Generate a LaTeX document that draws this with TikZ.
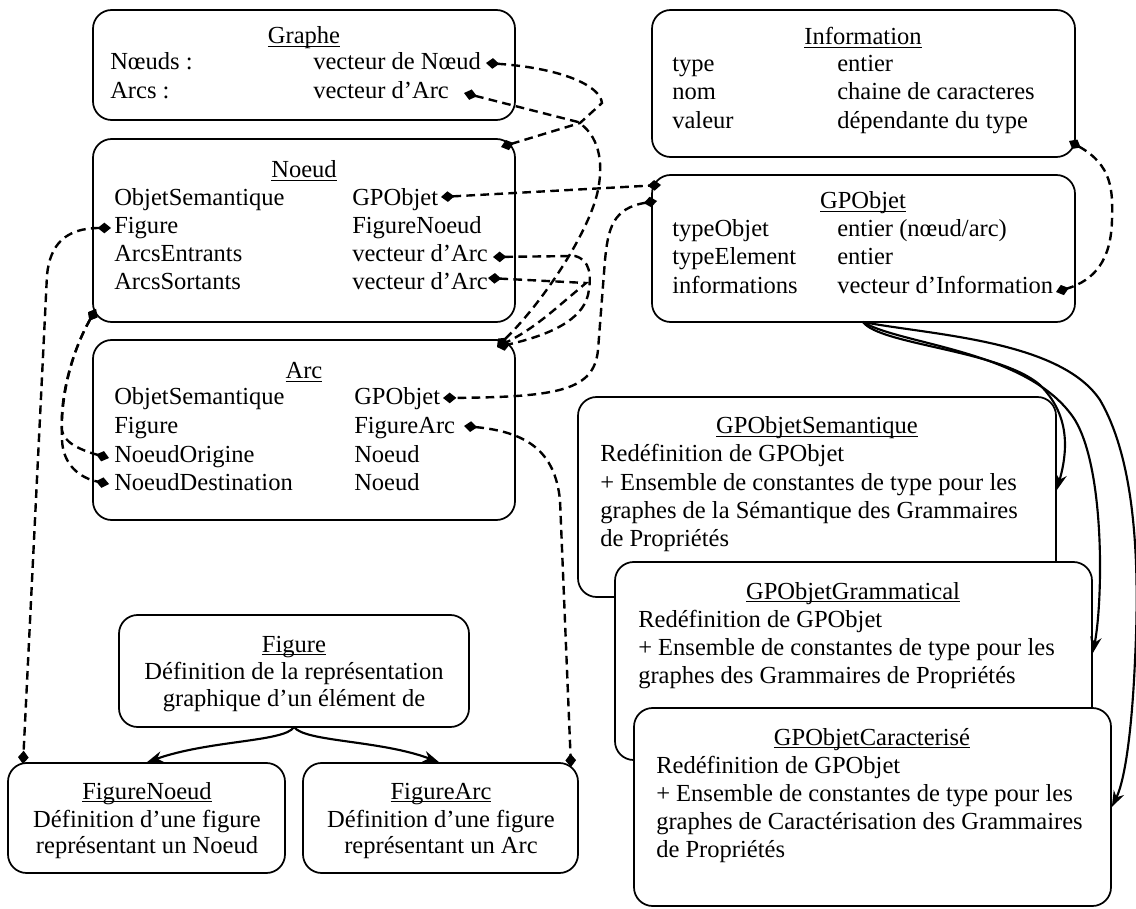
\documentclass[tikz,border=0pt]{standalone}
\usepackage{fontspec}
\setmainfont{Liberation Serif}
\usetikzlibrary{arrows.meta,fit}
\newcommand\ttlu[1]{\underline{\smash{#1}}}
\begin{document}
\begin{tikzpicture}[x=0.75pt,y=-0.75pt,
  every node/.style={font=\fontsize{18.4}{21}\selectfont, inner sep=0pt},
  box/.style={draw, line width=1.3pt, rounded corners=14pt, fill=white, inner sep=0pt},
  txt/.style={anchor=base west},
  ctr/.style={anchor=base},
  link/.style={dash pattern=on 6.5pt off 4pt, line width=1.8pt,
    {Diamond[length=10pt,width=8pt]}-{Diamond[length=10pt,width=8pt]}},
  inh/.style={line width=1.6pt, -{Stealth[length=12pt,width=8.5pt]}}
]
\useasboundingbox (0,0) rectangle (1136,909);

% ---------- boxes ----------
\node[box, fit={(93,10) (515,120)}] (graphe) {};
\node[box, fit={(93,139) (515,322)}] (noeud) {};
\node[box, fit={(93,340) (515,520)}] (arc) {};
\node[box, fit={(652,10) (1075,157)}] (information) {};
\node[box, fit={(652,175) (1075,322)}] (gpobjet) {};
\node[box, fit={(578,397) (1056,597)}] (sem) {};
\node[box, fit={(615,562) (1092,760)}] (gram) {};
\node[box, fit={(634,708) (1111,906)}] (carac) {};
\node[box, fit={(119,615) (469,727)}] (figure) {};
\node[box, fit={(8,763) (285,873)}] (fignoeud) {};
\node[box, fit={(303,763) (578,873)}] (figarc) {};

% ---------- Graphe ----------
\node[ctr] (g-t) at (304,44) {\ttlu{Graphe}};
\node[txt] (g-1a) at (110,70) {Nœuds :};
\node[txt] (g-1b) at (313,70) {vecteur de Nœud};
\node[txt] (g-2a) at (110,99) {Arcs :};
\node[txt] (g-2b) at (313,99) {vecteur d’Arc};

% ---------- Noeud ----------
\node[ctr] (n-t) at (304,178) {\ttlu{Noeud}};
\node[txt] (n-1a) at (114,206) {ObjetSemantique};
\node[txt] (n-1b) at (352,206) {GPObjet};
\node[txt] (n-2a) at (114,234) {Figure};
\node[txt] (n-2b) at (352,234) {FigureNoeud};
\node[txt] (n-3a) at (114,262) {ArcsEntrants};
\node[txt] (n-3b) at (352,262) {vecteur d’Arc};
\node[txt] (n-4a) at (114,290) {ArcsSortants};
\node[txt] (n-4b) at (352,290) {vecteur d’Arc};

% ---------- Arc ----------
\node[ctr] (a-t) at (304,379) {\ttlu{Arc}};
\node[txt] (a-1a) at (114,405) {ObjetSemantique};
\node[txt] (a-1b) at (354,405) {GPObjet};
\node[txt] (a-2a) at (114,434) {Figure};
\node[txt] (a-2b) at (354,434) {FigureArc};
\node[txt] (a-3a) at (114,462) {NoeudOrigine};
\node[txt] (a-3b) at (354,462) {Noeud};
\node[txt] (a-4a) at (114,490) {NoeudDestination};
\node[txt] (a-4b) at (354,490) {Noeud};

% ---------- Information ----------
\node[ctr] (i-t) at (863,45) {\ttlu{Information}};
\node[txt] (i-1a) at (672,72) {type};
\node[txt] (i-1b) at (837,72) {entier};
\node[txt] (i-2a) at (672,100) {nom};
\node[txt] (i-2b) at (837,100) {chaine de caracteres};
\node[txt] (i-3a) at (672,129) {valeur};
\node[txt] (i-3b) at (837,129) {dépendante du type};

% ---------- GPObjet ----------
\node[ctr] (o-t) at (863,209) {\ttlu{GPObjet}};
\node[txt] (o-1a) at (672,237) {typeObjet};
\node[txt] (o-1b) at (837,237) {entier (nœud/arc)};
\node[txt] (o-2a) at (672,265) {typeElement};
\node[txt] (o-2b) at (837,265) {entier};
\node[txt] (o-3a) at (672,294) {informations};
\node[txt] (o-3b) at (837,294) {vecteur d’Information};

% ---------- GPObjetSemantique ----------
\node[ctr] (s-t) at (817,434) {\ttlu{GPObjetSemantique}};
\node[txt] (s-1) at (600,461) {Redéfinition de GPObjet};
\node[txt] (s-2) at (600,490) {+ Ensemble de constantes de type pour les};
\node[txt] (s-3) at (600,518) {graphes de la Sémantique des Grammaires};
\node[txt] (s-4) at (600,546) {de Propriétés};

% ---------- GPObjetGrammatical ----------
\node[ctr] (gr-t) at (853,599) {\ttlu{GPObjetGrammatical}};
\node[txt] (gr-1) at (638,627) {Redéfinition de GPObjet};
\node[txt] (gr-2) at (638,655) {+ Ensemble de constantes de type pour les};
\node[txt] (gr-3) at (638,683) {graphes des Grammaires de Propriétés};

% ---------- GPObjetCaracterise ----------
\node[ctr] (c-t) at (872,745) {\ttlu{GPObjetCaracterisé}};
\node[txt] (c-1) at (656,773) {Redéfinition de GPObjet};
\node[txt] (c-2) at (656,801) {+ Ensemble de constantes de type pour les};
\node[txt] (c-3) at (656,829) {graphes de Caractérisation des Grammaires};
\node[txt] (c-4) at (656,857) {de Propriétés};

% ---------- Figure ----------
\node[ctr] (f-t) at (294,652) {\ttlu{Figure}};
\node[ctr] (f-1) at (294,679) {Définition de la représentation};
\node[ctr] (f-2) at (294,706) {graphique d’un élément de};

\node[ctr] (fn-t) at (147,799) {\ttlu{FigureNoeud}};
\node[ctr] (fn-1) at (147,827) {Définition d’une figure};
\node[ctr] (fn-2) at (147,853) {représentant un Noeud};

\node[ctr] (fa-t) at (441,799) {\ttlu{FigureArc}};
\node[ctr] (fa-1) at (441,827) {Définition d’une figure};
\node[ctr] (fa-2) at (441,853) {représentant un Arc};

% ---------- attachment points ----------
\coordinate (gN) at (486,63);
\coordinate (gA) at (464,93);
\coordinate (nC) at (501,147);
\coordinate (nG) at (441,197);
\coordinate (oT) at (661,185);
\coordinate (oL) at (657,201);
\coordinate (aG) at (443,398);
\coordinate (nAE) at (493,257);
\coordinate (nAS) at (488,278);
\coordinate (aC) at (497,347);
\coordinate (aF) at (464,426);
\coordinate (faC) at (571,767);
\coordinate (fnC) at (23,764);
\coordinate (nF) at (111,228);
\coordinate (nBL) at (96,309);
\coordinate (aO) at (109,458);
\coordinate (aD) at (109,484);
\coordinate (iC) at (1069,141);
\coordinate (oI) at (1056,292);
\coordinate (oB) at (863,322);
\coordinate (fB) at (294,727);

% ---------- dashed links ----------
\draw[link] (gN) .. controls (560,68) and (600,85) .. (602,103) -- (580,123) -- (nC);
\draw[link] (gA) -- (578,122) .. controls (598,135) and (604,160) .. (598,190) .. controls (590,230) and (545,300) .. (aC);
\draw[link] (nG) -- (oT);
\draw[link] (oL) .. controls (612,208) and (608,230) .. (605,260) -- (598,350) .. controls (594,390) and (560,397) .. (aG);
\draw[link] (nAE) -- (575,256) .. controls (590,260) and (592,275) .. (588,295) .. controls (582,320) and (550,335) .. (aC);
\draw[link] (nAS) -- (586,283) -- (560,305) .. controls (540,322) and (525,333) .. (aC);
\draw[link] (iC) .. controls (1112,165) and (1113,190) .. (1112,220) .. controls (1111,260) and (1095,280) .. (oI);
\draw[link] (nF) .. controls (65,228) and (50,245) .. (47,275) -- (fnC);
\draw[link] (aF) .. controls (528,432) and (555,452) .. (560,500) -- (faC);
\draw[link] (nBL) .. controls (70,355) and (60,400) .. (62,430) .. controls (63,442) and (80,450) .. (aO);
\draw[link] (nBL) .. controls (70,355) and (60,400) .. (62,440) .. controls (63,465) and (80,478) .. (aD);

% ---------- inheritance ----------
\draw[inh] (oB) .. controls (880,345) and (1000,350) .. (1040,385) .. controls (1070,415) and (1068,450) .. (sem.east |- 0,490);
\draw[inh] (oB) .. controls (900,345) and (1030,350) .. (1075,420) .. controls (1105,470) and (1103,600) .. (gram.east |- 0,653);
\draw[inh] (oB) .. controls (930,335) and (1060,340) .. (1100,400) .. controls (1135,460) and (1140,560) .. (1135,660) .. controls (1132,730) and (1125,780) .. (carac.east |- 0,807);
\draw[inh] (fB) .. controls (285,742) and (210,740) .. (fignoeud.north -| 147,0);
\draw[inh] (fB) .. controls (305,742) and (380,740) .. (figarc.north -| 439,0);
\end{tikzpicture}
\end{document}
